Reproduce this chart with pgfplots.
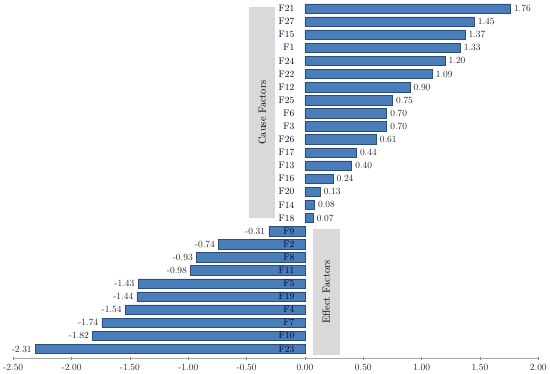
\documentclass[border=0pt]{standalone}
\usepackage{pgfplots}
\pgfplotsset{compat=1.18}
\definecolor{barblue}{RGB}{74,126,187}
\definecolor{baredge}{RGB}{44,77,117}
\definecolor{boxgray}{RGB}{217,217,217}
\begin{document}
\begin{tikzpicture}
\begin{axis}[
  scale only axis, width=529pt, height=361.5pt,
  xmin=-2.5, xmax=2.0, ymin=-0.75, ymax=26.65,
  clip=false, axis on top,
  xbar, bar width=0.72, bar shift=0pt,
  axis x line=bottom, axis y line=center,
  axis line style={-},
  x axis line style={draw=gray!70, line width=0.8pt},
  y axis line style={draw=none},
  xtick={-2.5,-2,-1.5,-1,-0.5,0,0.5,1,1.5,2},
  xtick style={gray, line width=0.6pt},
  tick align=center, major tick length=3pt,
  ytick={0,...,26},
  yticklabels={F23,F10,F7,F4,F19,F5,F11,F8,F2,F9,F18,F14,F20,F16,F13,F17,F26,F3,F6,F25,F12,F22,F24,F1,F15,F27,F21},
  ytick style={draw=none},
  tick label style={font=\fontsize{9.5}{10}\selectfont, text=black!85},
  y tick label style={text=black!85!blue, inner sep=2pt, xshift=-7pt},
  nodes near coords,
  nodes near coords style={font=\fontsize{9.5}{10}\selectfont, text=black!85, inner sep=3.5pt},
  /pgf/number format/.cd, fixed, fixed zerofill, precision=2, assume math mode=true
]
\fill[boxgray] (axis cs:-0.476,10.0) rectangle (axis cs:-0.255,26.1);
\fill[boxgray] (axis cs:0.068,-0.45) rectangle (axis cs:0.298,9.17);
\node[rotate=90, font=\fontsize{10.5}{11}\selectfont] at (axis cs:-0.3655,18.05) {Cause Factors};
\node[rotate=90, font=\fontsize{10.5}{11}\selectfont] at (axis cs:0.183,4.36) {Effect Factors};
\addplot[fill=barblue, draw=baredge, line width=0.5pt] coordinates {
(-2.31,0) (-1.82,1) (-1.74,2) (-1.54,3) (-1.44,4) (-1.43,5) (-0.98,6) (-0.93,7) (-0.74,8) (-0.31,9)
(0.07,10) (0.08,11) (0.13,12) (0.24,13) (0.40,14) (0.44,15) (0.61,16) (0.70,17) (0.70,18) (0.75,19)
(0.90,20) (1.09,21) (1.20,22) (1.33,23) (1.37,24) (1.45,25) (1.76,26)
};
\end{axis}
\end{tikzpicture}
\end{document}
